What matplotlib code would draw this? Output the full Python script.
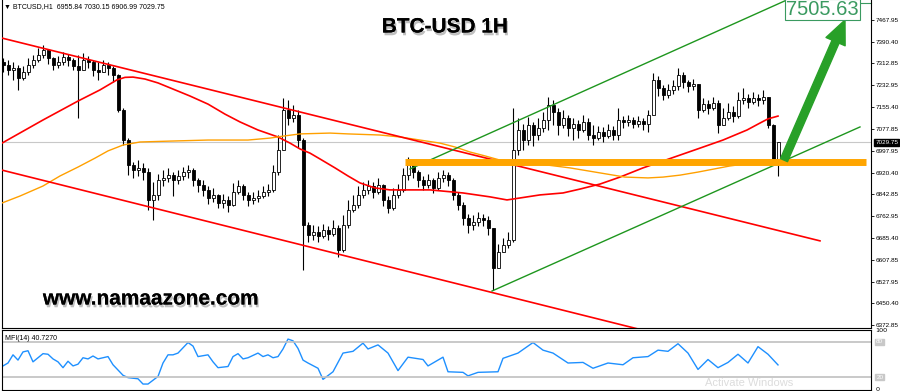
import numpy as np
import matplotlib.pyplot as plt
import matplotlib.patheffects as pe
from matplotlib.patches import FancyArrowPatch
from matplotlib.transforms import blended_transform_factory

# ---- BTCUSD H1 candles (one per bar) ----
first_open = 7317
closes = [7307, 7289, 7296, 7260, 7282, 7307, 7325, 7342, 7360, 7332, 7307, 7317, 7335,
          7325, 7303, 7289, 7325, 7317, 7289, 7282, 7307, 7296, 7271, 7145, 7037, 6947,
          6929, 6937, 6922, 6822, 6840, 6894, 6901, 6911, 6894, 6908, 6922, 6929, 6894,
          6876, 6858, 6829, 6840, 6811, 6822, 6804, 6850, 6872, 6840, 6822, 6829, 6836,
          6850, 6858, 6922, 7001, 7145, 7116, 7127, 7037, 6732, 6696, 6707, 6693, 6714,
          6700, 6721, 6642, 6732, 6786, 6804, 6840, 6858, 6872, 6850, 6876, 6822, 6793,
          6840, 6858, 6911, 6947, 6922, 6894, 6876, 6894, 6865, 6901, 6911, 6894, 6840,
          6804, 6757, 6732, 6743, 6757, 6750, 6721, 6578, 6635, 6660, 6678, 7001, 7073,
          7037, 7091, 7055, 7080, 7109, 7163, 7138, 7091, 7116, 7080, 7095, 7073, 7102,
          7055, 7044, 7066, 7052, 7073, 7055, 7109, 7102, 7109, 7095, 7105, 7095, 7127,
          7253, 7224, 7199, 7217, 7231, 7271, 7246, 7231, 7238, 7145, 7166, 7152, 7170,
          7091, 7116, 7138, 7123, 7181, 7188, 7174, 7188, 7181, 7192, 7091, 6955.84, 7029.75]
highs = [7332, 7325, 7317, 7307, 7303, 7332, 7342, 7368, 7378, 7360, 7335, 7339, 7353,
         7346, 7332, 7342, 7350, 7339, 7325, 7317, 7325, 7317, 7303, 7274, 7152, 7044,
         6958, 6965, 6955, 6937, 6886, 6915, 6929, 6937, 6922, 6929, 6940, 6947, 6937,
         6901, 6894, 6872, 6865, 6843, 6843, 6836, 6883, 6894, 6879, 6850, 6850, 6858,
         6872, 6879, 6947, 7055, 7188, 7181, 7163, 7145, 7044, 6743, 6732, 6729, 6736,
         6729, 6750, 6732, 6768, 6822, 6840, 6872, 6886, 6894, 6886, 6901, 6879, 6836,
         6865, 6879, 6937, 6976, 6958, 6929, 6908, 6915, 6901, 6922, 6929, 6922, 6901,
         6850, 6815, 6772, 6768, 6779, 6772, 6765, 6721, 6664, 6686, 6707, 7152, 7116,
         7095, 7120, 7102, 7116, 7138, 7192, 7181, 7152, 7145, 7127, 7116, 7109, 7127,
         7116, 7091, 7087, 7084, 7095, 7087, 7152, 7123, 7127, 7120, 7123, 7116, 7145,
         7278, 7267, 7235, 7238, 7253, 7296, 7282, 7253, 7256, 7235, 7188, 7181, 7192,
         7181, 7152, 7170, 7159, 7210, 7224, 7203, 7210, 7203, 7217, 7188, 7095, 7030.15]
lows = [7282, 7271, 7253, 7217, 7253, 7271, 7296, 7317, 7332, 7310, 7289, 7296, 7307,
        7303, 7289, 7116, 7289, 7296, 7267, 7253, 7282, 7271, 7246, 7138, 7019, 6911,
        6901, 6908, 6894, 6786, 6750, 6822, 6872, 6886, 6836, 6879, 6894, 6901, 6872,
        6850, 6836, 6807, 6815, 6793, 6793, 6779, 6800, 6843, 6822, 6800, 6807, 6815,
        6829, 6836, 6850, 6911, 7001, 7091, 7102, 7008, 6570, 6671, 6678, 6671, 6686,
        6678, 6693, 6617, 6635, 6721, 6779, 6793, 6829, 6843, 6829, 6843, 6800, 6775,
        6786, 6829, 6850, 6894, 6901, 6868, 6858, 6865, 6847, 6858, 6886, 6872, 6822,
        6786, 6732, 6703, 6714, 6729, 6729, 6696, 6499, 6578, 6635, 6649, 6671, 6983,
        7001, 7019, 7016, 7037, 7066, 7073, 7091, 7055, 7080, 7052, 7037, 7044, 7066,
        7037, 7019, 7037, 7030, 7044, 7037, 7037, 7080, 7087, 7080, 7084, 7073, 7066,
        7145, 7195, 7181, 7188, 7203, 7217, 7224, 7210, 7217, 7116, 7138, 7130, 7145,
        7062, 7095, 7109, 7102, 7116, 7166, 7152, 7166, 7159, 7166, 7080, 6947, 6906.99]

# moving averages (bar index, price)
red_ma_bar = [-0.2, 8, 15, 19.4, 22.8, 24.4, 26, 28.4, 31, 34, 37.4, 41, 44.4, 47.4, 51,
              55, 57.4, 59.4, 61.4, 63.4, 66.4, 69, 71.4, 74.4, 77.4, 85.4, 92, 97.4, 100.8,
              103.4, 107.4, 112, 115.4, 119.4, 123.4, 128, 131.4, 135.4, 139.4, 144, 148.8,
              151.4, 153, 155]
red_ma_val = [7026, 7109, 7177, 7217, 7253, 7262, 7263, 7256, 7242, 7220, 7195, 7166, 7130,
              7102, 7073, 7048, 7026, 7005, 6990, 6969, 6937, 6908, 6883, 6865, 6858, 6858,
              6847, 6833, 6822, 6829, 6840, 6847, 6861, 6879, 6904, 6937, 6958, 6983, 7008,
              7037, 7073, 7098, 7113, 7123]
orange_ma_bar = [-0.2, 3.4, 8, 11.4, 15, 18.4, 21, 24, 27.4, 33, 41, 49, 53.4, 56.4, 59.4,
                 65.4, 69, 75.4, 79.4, 83.4, 87.4, 90.4, 93.4, 96.4, 99.4, 105.4, 113.4,
                 119.4, 124.4, 129, 132, 135.4, 139, 145.4, 151.4, 154]
orange_ma_val = [6811, 6836, 6872, 6908, 6940, 6972, 6998, 7019, 7030, 7033, 7037, 7037,
                 7044, 7052, 7059, 7062, 7059, 7055, 7048, 7037, 7026, 7012, 6994, 6980,
                 6965, 6955, 6937, 6919, 6904, 6901, 6904, 6911, 6922, 6944, 6958, 6965]

# drawn objects: (bar, price) anchors
red_upper = ([-0.2, 163.4], [7403, 6675])
red_lower = ([-0.2, 127.4], [6929, 6357])
green_upper = ([81.4, 159.4], [6933, 7561])
green_lower = ([97.8, 171.4], [6495, 7084])
support_level = 6958
support_from, support_to = 80.4, 172.6
arrow_from = (156.2, 6965)
arrow_to = (168.4, 7468)
target_price = 7505.63
last_price = 7029.75

# MFI(14)
mfi_bar = [0, 1, 2, 3, 4, 5, 6, 7, 8, 9, 10, 11, 12, 13, 14, 15, 16, 17, 18, 19, 20, 21, 22,
           24, 25, 27, 28, 29, 31, 32, 33, 34, 35, 37, 38, 39, 41, 42, 43, 45, 46, 47, 48,
           49, 51, 52, 53, 54, 55, 56, 57, 58, 59, 60, 61, 63, 64, 66, 68, 70, 72, 73, 75,
           77, 79, 81, 84, 85, 88, 89, 92, 93, 95, 99, 100, 103, 106, 108, 110, 113, 116,
           118, 121, 124, 126, 129, 131, 133, 135, 137, 139, 141, 143, 145, 147, 149, 151,
           153, 155]
mfi_val = [39, 44, 58, 49, 63, 65, 46, 53, 60, 59, 51, 46, 36, 47, 39, 42, 53, 51, 56, 51,
           53, 55, 41, 23, 19, 17, 8, 8, 21, 44, 58, 58, 61, 79, 73, 55, 58, 46, 36, 38, 55,
           60, 51, 53, 61, 55, 58, 53, 55, 68, 85, 82, 69, 49, 44, 35, 16, 29, 61, 64, 78,
           68, 75, 61, 31, 54, 50, 39, 54, 29, 28, 22, 28, 29, 52, 61, 79, 66, 61, 44, 45,
           35, 44, 41, 53, 55, 66, 64, 77, 61, 33, 50, 36, 45, 59, 44, 72, 59, 40.727]

price_ticks = [7467.95, 7390.40, 7312.85, 7232.95, 7155.40, 7077.85, 6997.95, 6920.40,
               6842.85, 6762.95, 6685.40, 6607.85, 6527.95, 6450.40, 6372.85]

W, H = 900, 391
fig = plt.figure(figsize=(9, 3.91), dpi=100)
ax = fig.add_axes([2 / W, 1 - 328 / H, 869 / W, 328 / H])
mx = fig.add_axes([2 / W, 1 - 390 / H, 869 / W, 60 / H], sharex=ax)

opens = [first_open] + closes[:-1]
x = np.arange(len(closes))
o, c, h, l = map(np.array, (opens, closes, highs, lows))

# candles
ax.vlines(x, np.minimum(l, np.minimum(o, c)), np.maximum(h, np.maximum(o, c)),
          color='black', lw=0.8, zorder=3)
up = c >= o
ax.bar(x[up], (c - o)[up], bottom=o[up], width=0.6, color='white', edgecolor='black',
       lw=0.6, zorder=4)
ax.bar(x[~up], (c - o)[~up], bottom=o[~up], width=0.6, color='black', edgecolor='black',
       lw=0.6, zorder=4)

ax.axhline(last_price, color='#c8c8c8', lw=0.8, zorder=1)
ax.plot(red_ma_bar, red_ma_val, color='red', lw=1.2, zorder=5)
ax.plot(orange_ma_bar, orange_ma_val, color='#ffa000', lw=1.0, zorder=5)
ax.plot(*red_upper, color='red', lw=1.2, zorder=5)
ax.plot(*red_lower, color='red', lw=1.2, zorder=5)
ax.plot(*green_upper, color='#1e961e', lw=1.0, zorder=5)
ax.plot(*green_lower, color='#1e961e', lw=1.0, zorder=5)
ax.plot([support_from, support_to], [support_level, support_level], color='#ffa500',
        lw=5, solid_capstyle='butt', zorder=6)

arr = FancyArrowPatch(arrow_from, arrow_to, arrowstyle='simple,head_width=1.5,head_length=1.7,tail_width=0.55',
                      mutation_scale=10, color='#28a028', shrinkA=0, shrinkB=0, zorder=7)
ax.add_patch(arr)

ax.text(163.9, target_price, '7505.63', ha='center', va='center', fontsize=14.5,
        family='Liberation Sans', color='#3a9a60', zorder=8,
        bbox=dict(boxstyle='square,pad=0.05', facecolor='white', edgecolor='#3a9a60', lw=0.8))
ax.plot([171.4, 173.6], [target_price + 25, target_price + 25], color='#3a9a60', lw=0.8,
        clip_on=False)

ax.set_xlim(-0.2, 173.6)
ax.set_ylim(6362.2, 7539.75)
ax.yaxis.tick_right()
ax.set_yticks(price_ticks)
ax.set_yticklabels([f'{v:.2f}' for v in price_ticks])
ax.tick_params(axis='y', labelsize=4.6, length=2, pad=1.5, width=0.6)
for t in ax.get_yticklabels():
    t.set_family('Liberation Sans')
ax.tick_params(axis='x', bottom=False, labelbottom=False)
ax.spines['top'].set_visible(False)
for s in ('left', 'right', 'bottom'):
    ax.spines[s].set_linewidth(0.8)

tr = blended_transform_factory(ax.transAxes, ax.transData)
ax.text(1.005, last_price, '7029.75', transform=tr, fontsize=4.6, family='Liberation Sans',
        color='white', va='center', ha='left',
        bbox=dict(boxstyle='square,pad=0.15', facecolor='black', edgecolor='black'))

shadow = [pe.withSimplePatchShadow(offset=(1, -2), shadow_rgbFace='#808080', alpha=0.5),
          pe.Normal()]
fig.text(445 / W, 1 - 27 / H, 'BTC-USD 1H', ha='center', va='center', fontsize=15,
         fontweight='bold', family='Liberation Sans', path_effects=shadow)
fig.text(151 / W, 1 - 299 / H, 'www.namaazone.com', ha='center', va='center', fontsize=15,
         fontweight='bold', family='Liberation Sans', path_effects=shadow)
fig.text(4 / W, 1 - 7 / H, '\u25bc BTCUSD,H1  6955.84 7030.15 6906.99 7029.75', fontsize=5,
         family=['Liberation Sans', 'DejaVu Sans'], va='center', ha='left')

# MFI panel
mx.plot(mfi_bar, mfi_val, color='#1e90ff', lw=1.0)
mx.axhline(80, color='#c0c0c0', lw=1.2)
mx.axhline(20, color='#c0c0c0', lw=1.2)
mx.set_ylim(-2.2, 100.5)
mx.yaxis.tick_right()
mx.set_yticks([100, 0])
mx.set_yticklabels(['100', '0'])
mx.tick_params(axis='y', labelsize=4.6, length=0, pad=3)
mx.tick_params(axis='x', bottom=False, labelbottom=False)
for s in mx.spines.values():
    s.set_linewidth(0.8)
mtr = blended_transform_factory(mx.transAxes, mx.transData)
for lv in (80, 20):
    mx.text(1.006, lv, str(lv), transform=mtr, fontsize=4.6, color='white', va='center',
            family='Liberation Sans',
            bbox=dict(boxstyle='square,pad=0.15', facecolor='#c8c8c8', edgecolor='#c8c8c8'))
mx.text(0.004, 0.92, 'MFI(14) 40.7270', transform=mx.transAxes, fontsize=5, va='top',
        family='Liberation Sans')
fig.text(705 / W, 1 - 383 / H, 'Activate Windows', fontsize=8, color='#dcdcdc',
         family='Liberation Sans', va='center')

fig.savefig('out.png', dpi=100)
